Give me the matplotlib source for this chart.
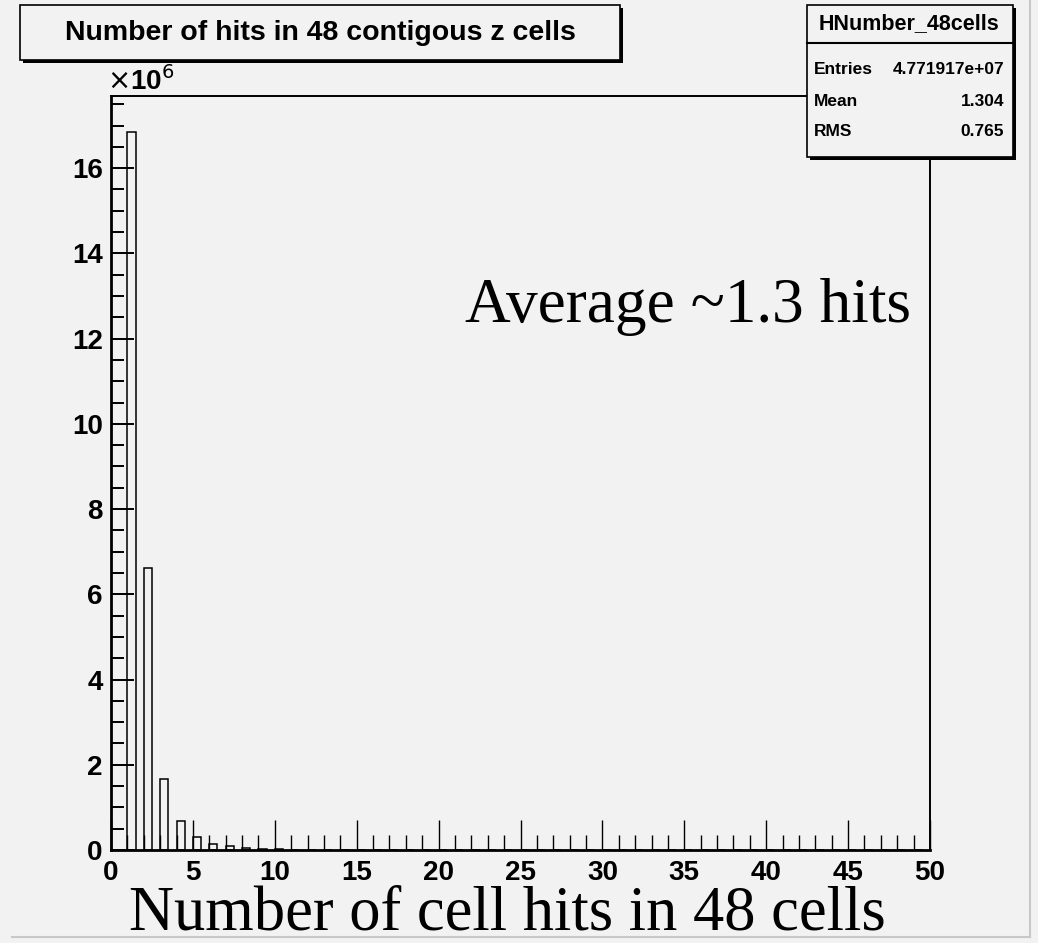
import matplotlib
matplotlib.use("Agg")
import matplotlib.pyplot as plt
from matplotlib.patches import Rectangle
from matplotlib.ticker import MultipleLocator

# histogram contents (x10^6), bins of width 0.5 starting at each integer
hits = list(range(1, 50))
counts = [16.85, 6.62, 1.67, 0.69, 0.31, 0.15, 0.085, 0.045, 0.025, 0.015,
          0.01, 0.008, 0.006, 0.005, 0.004, 0.003, 0.002, 0.002, 0.001, 0.001] + [0.0] * 29

title = "Number of hits in 48 contigous z cells"
stats_name = "HNumber_48cells"
stats_rows = [("Entries", "4.771917e+07"), ("Mean", "1.304"), ("RMS", "0.765")]
xticks = list(range(0, 51, 5))
yticks = list(range(0, 17, 2))

W, H = 1038, 943
bg = "#f2f2f2"
bold = ["Liberation Sans", "DejaVu Sans"]
serif = ["Liberation Serif", "DejaVu Serif"]
PT = 0.72  # points per pixel at 100 dpi

fig = plt.figure(figsize=(W / 100, H / 100), dpi=100, facecolor=bg)


def fx(px):
    return px / W


def fy(py):
    return 1 - py / H


ax = fig.add_axes([fx(111), fy(850), fx(930) - fx(111), fy(96) - fy(850)])
ax.set_facecolor(bg)
ax.bar(hits, counts, width=0.5, align="edge", fill=False, edgecolor="black", linewidth=1.1)
ax.set_xlim(0, 50)
ax.set_ylim(0, 1.05 * max(counts))

ax.set_xticks(xticks)
ax.set_yticks(yticks)
ax.xaxis.set_minor_locator(MultipleLocator(1))
ax.yaxis.set_minor_locator(MultipleLocator(0.5))
ax.tick_params(which="both", direction="in", labelsize=20)
ax.tick_params(axis="x", which="major", length=30 * PT, width=1.0, pad=7)
ax.tick_params(axis="y", which="major", length=23 * PT, width=1.4, pad=6)
ax.tick_params(axis="x", which="minor", length=15 * PT, width=1.0)
ax.tick_params(axis="y", which="minor", length=13 * PT, width=1.4)
for lab in ax.get_xticklabels() + ax.get_yticklabels():
    lab.set_family(bold)
    lab.set_fontweight("bold")
for side in ["left", "bottom"]:
    ax.spines[side].set_linewidth(2.0)
for side in ["top", "right"]:
    ax.spines[side].set_linewidth(1.4)

fig.text(fx(107), fy(96), r"$\times$10$^{6}$", fontsize=20, family=bold,
         fontweight="bold", ha="left", va="bottom")

# title box with shadow
fig.patches.append(Rectangle((fx(23), fy(63)), fx(600), fy(5) - fy(60),
                             transform=fig.transFigure, facecolor="black", edgecolor="none"))
fig.patches.append(Rectangle((fx(20), fy(60)), fx(600), fy(5) - fy(60),
                             transform=fig.transFigure, facecolor=bg, edgecolor="black", linewidth=1.2))
fig.text(fx(320), fy(33), title, fontsize=20.5, family=bold, fontweight="bold",
         ha="center", va="center")

# stats box with shadow
fig.patches.append(Rectangle((fx(810), fy(160)), fx(206), fy(5) - fy(157),
                             transform=fig.transFigure, facecolor="black", edgecolor="none", zorder=5))
fig.patches.append(Rectangle((fx(807), fy(157)), fx(206), fy(5) - fy(157),
                             transform=fig.transFigure, facecolor=bg, edgecolor="black",
                             linewidth=1.2, zorder=6))
fig.add_artist(plt.Line2D([fx(807), fx(1013)], [fy(43), fy(43)], color="black",
                          linewidth=1.5, zorder=7))
fig.text(fx(909), fy(24), stats_name, fontsize=15.5, family=bold, fontweight="bold",
         ha="center", va="center", zorder=8)
for i, (name, val) in enumerate(stats_rows):
    y = fy(70 + 31 * i)
    fig.text(fx(814), y, name, fontsize=12.5, family=bold, fontweight="bold",
             ha="left", va="center", zorder=8)
    fig.text(fx(1004), y, val, fontsize=12.5, family=bold, fontweight="bold",
             ha="right", va="center", zorder=8)

# annotations in serif
fig.text(fx(688), fy(322), "Average ~1.3 hits", fontsize=45.5, family=serif,
         ha="center", va="baseline")
fig.text(fx(507), fy(930), "Number of cell hits in 48 cells", fontsize=45,
         family=serif, ha="center", va="baseline")

# canvas border
fig.add_artist(plt.Line2D([fx(1030), fx(1030)], [fy(0), fy(937)], color="#c8c8c8", linewidth=1.5))
fig.add_artist(plt.Line2D([fx(12), fx(1030)], [fy(937), fy(937)], color="#c8c8c8", linewidth=1.5))

fig.savefig("out.png", dpi=100, facecolor=bg)
